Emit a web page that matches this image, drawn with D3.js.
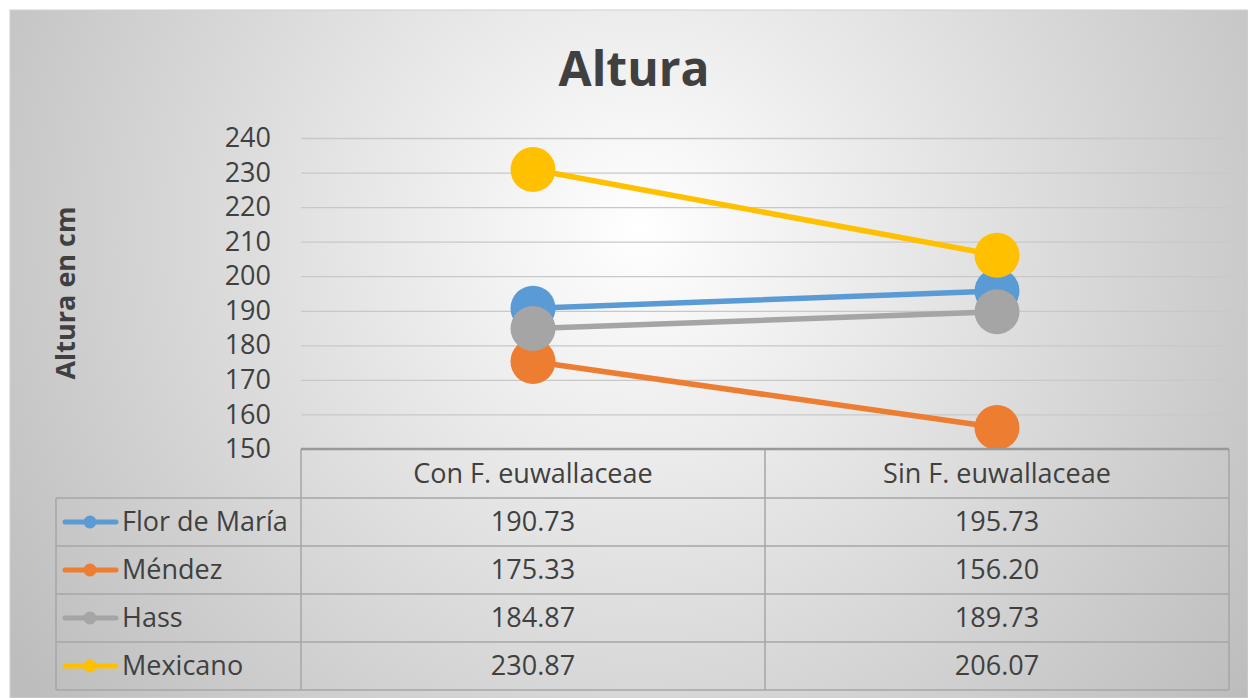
<!DOCTYPE html>
<html>
<head>
<meta charset="utf-8">
<script src="https://cdn.jsdelivr.net/npm/d3@7"></script>
<style>
html,body{margin:0;padding:0;background:#fff;}
svg{display:block;}
text{font-family:"Open Sans","Noto Sans",sans-serif;fill:#404040;}
</style>
</head>
<body>
<svg id="chart" width="1248" height="698"></svg>
<script>
const categories = ["Con F. euwallaceae", "Sin F. euwallaceae"];
const seriesNames = ["Flor de María", "Méndez", "Hass", "Mexicano"];
const florDeMaria = [190.73, 195.73];
const mendez = [175.33, 156.20];
const hass = [184.87, 189.73];
const mexicano = [230.87, 206.07];
const yTicks = [150, 160, 170, 180, 190, 200, 210, 220, 230, 240];
const seriesColors = ["#5b9bd5", "#ed7d31", "#a5a5a5", "#ffc000"];

const seriesValues = [florDeMaria, mendez, hass, mexicano];
const series = seriesNames.map((n, i) => ({name: n, values: seriesValues[i], color: seriesColors[i]}));

const svg = d3.select("#chart");
const defs = svg.append("defs");
const grad = defs.append("radialGradient").attr("id", "bg")
  .attr("gradientUnits", "userSpaceOnUse")
  .attr("cx", 640).attr("cy", 230).attr("r", 760);
grad.append("stop").attr("offset", "0%").attr("stop-color", "#ffffff");
grad.append("stop").attr("offset", "100%").attr("stop-color", "#bdbdbd");

svg.append("rect").attr("x", 10).attr("y", 10).attr("width", 1238).attr("height", 688)
  .attr("fill", "url(#bg)").attr("stroke", "#d0d0d0").attr("stroke-width", 1);

const plot = {left: 301, right: 1229, top: 138, bottom: 449};
const y = d3.scaleLinear().domain([150, 240]).range([plot.bottom, plot.top]);
const x = d3.scaleBand().domain(categories).range([plot.left, plot.right]);
const cx = c => x(c) + x.bandwidth() / 2;

// gridlines
const grid = svg.append("g").attr("transform", `translate(${plot.left},0)`)
  .call(d3.axisLeft(y).tickValues(yTicks.filter(t => t !== 150)).tickSize(-(plot.right - plot.left)).tickFormat(""));
grid.select(".domain").remove();
grid.selectAll("line").attr("stroke", "#c8c8c8").attr("stroke-width", 1.3);

// y tick labels
const yAxis = svg.append("g").attr("transform", `translate(${plot.left},0)`)
  .call(d3.axisLeft(y).tickValues(yTicks).tickSize(0).tickPadding(30).tickFormat(d3.format("d")));
yAxis.select(".domain").remove();
yAxis.selectAll("text").attr("font-size", 27).attr("fill", "#404040")
  .attr("font-family", "'Open Sans','Noto Sans',sans-serif");

// title
svg.append("text").attr("x", 634).attr("y", 86).attr("text-anchor", "middle")
  .attr("font-size", 48).attr("font-weight", "bold").text("Altura");

// y-axis title
svg.append("text").attr("transform", "translate(75,293) rotate(-90)")
  .attr("text-anchor", "middle").attr("font-size", 27).attr("font-weight", "bold").text("Altura en cm");

// lines and markers
const line = d3.line().x((d, i) => cx(categories[i])).y(d => y(d));
series.forEach(s => {
  const g = svg.append("g");
  g.append("path").attr("d", line(s.values)).attr("fill", "none")
    .attr("stroke", s.color).attr("stroke-width", 5.5).attr("stroke-linecap", "round");
  g.selectAll("circle").data(s.values).join("circle")
    .attr("cx", (d, i) => cx(categories[i])).attr("cy", d => y(d))
    .attr("r", 22.5).attr("fill", s.color);
});

// data table
const rowH = 48;
const headerTop = plot.bottom, headerBottom = plot.bottom + 49;
const legendLeft = 56;
const tbl = svg.append("g");
const lineColor = "#a6a6a6";
const hLines = d3.range(series.length + 1).map(i => headerBottom + i * rowH);
tbl.selectAll("line.h").data(hLines).join("line").attr("class", "h")
  .attr("x1", legendLeft).attr("x2", plot.right).attr("y1", d => d).attr("y2", d => d)
  .attr("stroke", lineColor).attr("stroke-width", 1.5);
const vX = [plot.left, x(categories[1]), plot.right];
tbl.selectAll("line.v").data(vX).join("line").attr("class", "v")
  .attr("x1", d => d).attr("x2", d => d).attr("y1", headerTop).attr("y2", hLines[hLines.length - 1])
  .attr("stroke", lineColor).attr("stroke-width", 1.5);
tbl.append("line").attr("x1", legendLeft).attr("x2", legendLeft)
  .attr("y1", headerBottom).attr("y2", hLines[hLines.length - 1])
  .attr("stroke", lineColor).attr("stroke-width", 1.5);
tbl.append("line").attr("x1", plot.left).attr("x2", plot.right).attr("y1", headerTop).attr("y2", headerTop)
  .attr("stroke", "#999999").attr("stroke-width", 2.5);

tbl.selectAll("text.hdr").data(categories).join("text").attr("class", "hdr")
  .attr("x", d => cx(d)).attr("y", (headerTop + headerBottom) / 2).attr("dy", "0.35em")
  .attr("text-anchor", "middle").attr("font-size", 27).text(d => d);

const fmt = d3.format(".2f");
series.forEach((s, i) => {
  const ymid = headerBottom + i * rowH + rowH / 2;
  categories.forEach((c, j) => {
    tbl.append("text").attr("x", cx(c)).attr("y", ymid).attr("dy", "0.35em")
      .attr("text-anchor", "middle").attr("font-size", 27).text(fmt(s.values[j]));
  });
  tbl.append("line").attr("x1", 65).attr("x2", 116).attr("y1", ymid).attr("y2", ymid)
    .attr("stroke", s.color).attr("stroke-width", 5).attr("stroke-linecap", "round");
  tbl.append("circle").attr("cx", 90).attr("cy", ymid).attr("r", 6.5).attr("fill", s.color);
  tbl.append("text").attr("x", 122).attr("y", ymid).attr("dy", "0.35em")
    .attr("font-size", 27).text(s.name);
});
</script>
</body>
</html>
